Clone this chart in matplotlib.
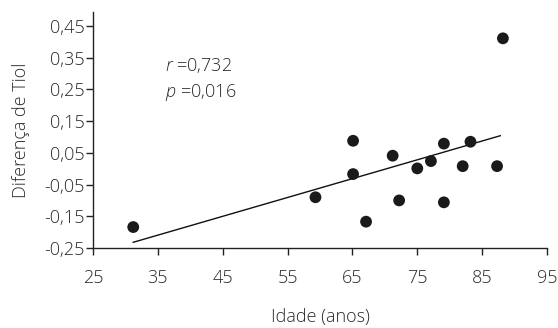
import matplotlib
matplotlib.use("Agg")
import matplotlib.pyplot as plt

plt.rcParams['font.family'] = ['Open Sans', 'DejaVu Sans']
plt.rcParams['mathtext.fontset'] = 'custom'
plt.rcParams['mathtext.it'] = 'Open Sans:italic:light'
plt.rcParams['mathtext.rm'] = 'Open Sans:light'

idade = [31.2, 59.3, 65.1, 65.1, 67.1, 71.2, 72.2, 75.0, 77.1, 79.1, 79.1, 82.0, 83.2, 87.3, 88.2]
tiol = [-0.184, -0.090, 0.088, -0.017, -0.167, 0.041, -0.100, 0.001, 0.024, 0.079, -0.106, 0.008, 0.085, 0.008, 0.411]
fit_x = [31.2, 87.8]
fit_y = [-0.232, 0.104]
xticks = [25, 35, 45, 55, 65, 75, 85, 95]
yticks = [-0.25, -0.15, -0.05, 0.05, 0.15, 0.25, 0.35, 0.45]
ytick_labels = ['-0,25', '-0,15', '-0,05', '0,05', '0,15', '0,25', '0,35', '0,45']

FS = 13
TC = '#2a2a2a'

fig = plt.figure(figsize=(5.58, 3.28), dpi=100)
ax = fig.add_axes([0.1667, 0.2439, 0.8136, 0.7195])

ax.plot(fit_x, fit_y, color='#111111', lw=1.0)
ax.scatter(idade, tiol, s=72, color='#1a1a1a', zorder=3, edgecolors='none')

ax.set_xlim(25, 95)
ax.set_ylim(-0.25, 0.494)
ax.set_xticks(xticks)
ax.set_xticklabels([str(v) for v in xticks])
ax.set_yticks(yticks)
ax.set_yticklabels(ytick_labels)

for s in ['top', 'right']:
    ax.spines[s].set_visible(False)
for s in ['left', 'bottom']:
    ax.spines[s].set_linewidth(1.0)
    ax.spines[s].set_color('#222222')

ax.tick_params(axis='both', direction='out', length=5, width=1.0, color='#222222',
               labelsize=FS, labelcolor=TC)
ax.tick_params(axis='x', pad=10)
ax.tick_params(axis='y', pad=1)
for lab in ax.get_xticklabels() + ax.get_yticklabels():
    lab.set_fontweight('light')

ax.set_xlabel('Idade (anos)', fontsize=FS, color=TC, labelpad=15, fontweight='light')
ax.set_ylabel('Diferença de Tiol', fontsize=FS, color=TC, labelpad=10, fontweight='light')

ax.text(36.1, 0.324, r'$r$ =0,732', fontsize=FS, color=TC, va='center', ha='left', fontweight='light')
ax.text(36.1, 0.239, r'$p$ =0,016', fontsize=FS, color=TC, va='center', ha='left', fontweight='light')

fig.savefig('out.png', dpi=100)
